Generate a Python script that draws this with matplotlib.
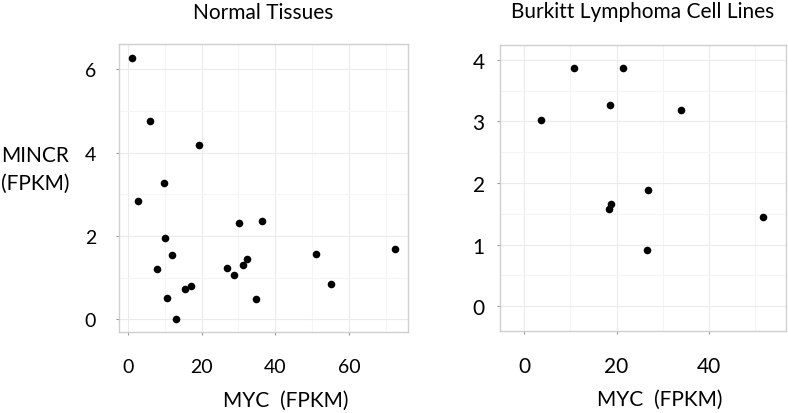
import matplotlib
matplotlib.use("Agg")
import matplotlib.pyplot as plt
from matplotlib.ticker import MultipleLocator

plt.rcParams['font.family'] = ['Lato', 'DejaVu Sans']

# Normal tissues
normal_myc = [1.2, 6.0, 19.3, 9.9, 2.7, 10.1, 30.2, 36.4, 12.0, 7.9, 26.9,
              28.9, 31.2, 32.3, 15.6, 17.1, 10.5, 13.0, 34.7, 51.2, 55.1, 72.6]
normal_mincr = [6.28, 4.77, 4.19, 3.28, 2.83, 1.96, 2.32, 2.37, 1.55, 1.21, 1.23,
                1.06, 1.31, 1.45, 0.73, 0.80, 0.51, 0.00, 0.49, 1.56, 0.84, 1.68]

# Burkitt lymphoma cell lines
bl_myc = [10.7, 21.3, 18.6, 34.0, 3.7, 26.7, 18.7, 18.4, 51.7, 26.5]
bl_mincr = [3.87, 3.87, 3.27, 3.19, 3.03, 1.89, 1.66, 1.58, 1.44, 0.91]

titles = ["Normal Tissues", "Burkitt Lymphoma Cell Lines"]
xlabel = "MYC  (FPKM)"
ylabel = "MINCR\n(FPKM)"

fig = plt.figure(figsize=(7.88, 4.14), dpi=100)
ax1 = fig.add_axes([119/788, 1-333/414, (407.7-119)/788, (333-45.3)/414])
ax2 = fig.add_axes([500/788, 1-331.7/414, (786-500)/788, (331.7-45.5)/414])

frame_col = '#cfcfcf'
grid_col = '#ebebeb'
minor_col = '#f5f5f5'

def style(ax, xmaj, ymaj, xlim, ylim, ypad, xfs, yfs):
    ax.set_xlim(*xlim)
    ax.set_ylim(*ylim)
    ax.xaxis.set_major_locator(MultipleLocator(xmaj))
    ax.yaxis.set_major_locator(MultipleLocator(ymaj))
    ax.xaxis.set_minor_locator(MultipleLocator(xmaj/2))
    ax.yaxis.set_minor_locator(MultipleLocator(ymaj/2))
    ax.grid(True, which='major', color=grid_col, lw=0.8, zorder=0)
    ax.grid(True, which='minor', color=minor_col, lw=0.8, zorder=0)
    ax.set_axisbelow(True)
    for s in ax.spines.values():
        s.set_color(frame_col)
        s.set_linewidth(1.0)
    ax.tick_params(which='minor', length=0)
    ax.tick_params(axis='x', which='major', direction='out', length=2.5, width=0.8,
                   color='#999999', pad=16, labelsize=xfs, labelcolor='black')
    ax.tick_params(axis='y', which='major', direction='out', length=2.5, width=0.8,
                   color='#999999', pad=ypad, labelsize=yfs, labelcolor='black')

ax1.scatter(normal_myc, normal_mincr, s=30, color='black', zorder=3, linewidths=0)
style(ax1, 20, 2, (-2.45, 76.0), (-0.3, 6.6), 14, 14, 14)
ax1.set_title(titles[0], fontsize=15, pad=19)
ax1.set_xlabel(xlabel, fontsize=15)
ax1.xaxis.set_label_coords(0.578, -0.236)
ax1.xaxis.label.set_va('center')

ax2.scatter(bl_myc, bl_mincr, s=30, color='black', zorder=3, linewidths=0)
style(ax2, 20, 1, (-5.2, 56.6), (-0.4, 4.25), 8.5, 15, 15)
ax2.set_title(titles[1], fontsize=15, pad=20)
ax2.set_xlabel(xlabel, fontsize=15)
ax2.xaxis.set_label_coords(0.56, -0.239)
ax2.xaxis.label.set_va('center')

fig.text(1.0/788, 1-170/414, ylabel, fontsize=15, ha='left', va='center',
         multialignment='center', linespacing=1.45)

fig.savefig('out.png', dpi=100)
